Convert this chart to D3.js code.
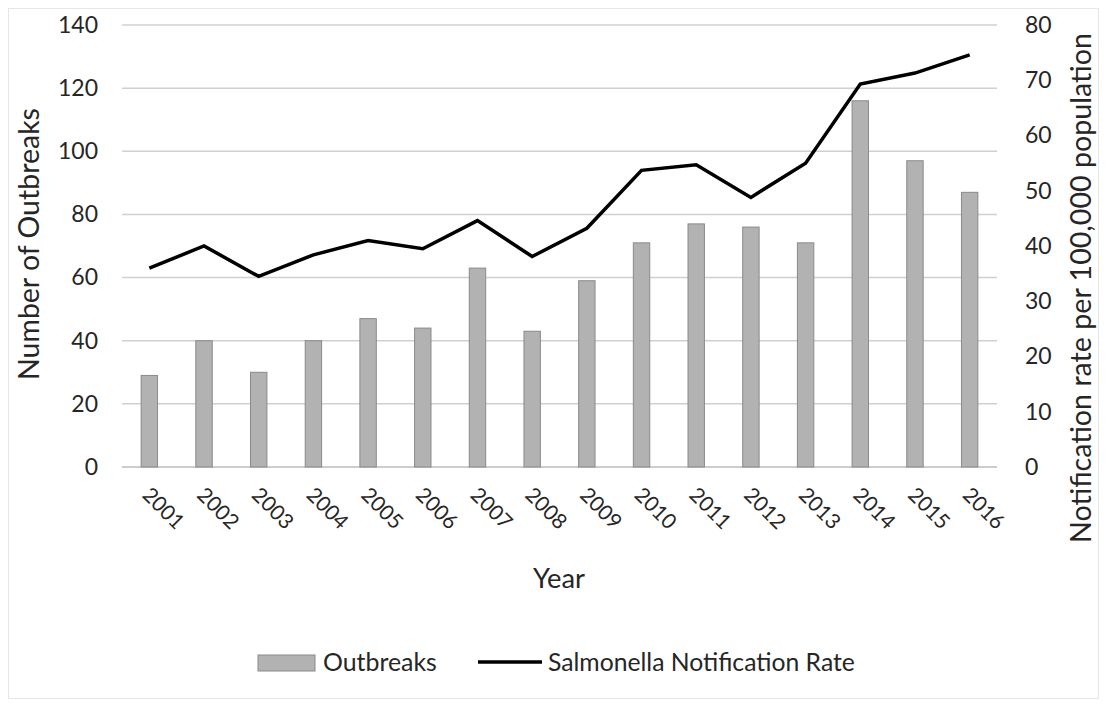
<!DOCTYPE html>
<html><head><meta charset="utf-8">
<script src="https://cdn.jsdelivr.net/npm/d3@7"></script>
<style>body{margin:0;background:#fff;}text{font-family:Lato,"Open Sans",sans-serif;fill:#262626;}</style>
</head><body><svg id="c" width="1105" height="704"></svg>
<script>
const years = ["2001","2002","2003","2004","2005","2006","2007","2008","2009","2010","2011","2012","2013","2014","2015","2016"];
const outbreaks = [29,40,30,40,47,44,63,43,59,71,77,76,71,116,97,87];
const rate = [36,40,34.5,38.4,41,39.5,44.6,38.1,43.2,53.7,54.7,48.8,55,69.3,71.3,74.6];
const leftTicks = [0,20,40,60,80,100,120,140];
const rightTicks = [0,10,20,30,40,50,60,70,80];

const svg = d3.select("#c");
function fit(sel, target){ const n=sel.node(); const fs=parseFloat(sel.attr("font-size")); const w=n.getComputedTextLength(); if(w>0) sel.attr("font-size", fs*target/w); return sel; }

svg.append("rect").attr("x",8.5).attr("y",8.5).attr("width",1090).attr("height",690).attr("fill","none").attr("stroke","#e6e6e6");
const L=122,R=997,T=25,B=467;
const x = d3.scaleBand().domain(years).range([L,R]).paddingInner(0.7).paddingOuter(0.35);
const yL = d3.scaleLinear().domain([0,140]).range([B,T]);
const yR = d3.scaleLinear().domain([0,80]).range([B,T]);

svg.append("g").selectAll("line").data(leftTicks).join("line")
  .attr("x1",L).attr("x2",R).attr("y1",d=>yL(d)).attr("y2",d=>yL(d))
  .attr("stroke",d=>d===0?"#bdbdbd":"#d0d0d0").attr("stroke-width",1.5);

const ga = svg.append("g").attr("transform",`translate(${L},0)`)
  .call(d3.axisLeft(yL).tickValues(leftTicks).tickSize(0).tickPadding(24));
ga.select(".domain").remove();
ga.selectAll("text").attr("font-size",23).style("fill","#262626").style("font-family","Lato");
const gr = svg.append("g").attr("transform",`translate(${R},0)`)
  .call(d3.axisRight(yR).tickValues(rightTicks).tickSize(0).tickPadding(28));
gr.select(".domain").remove();
gr.selectAll("text").attr("font-size",23).style("fill","#262626").style("font-family","Lato");

svg.append("g").selectAll("rect").data(years).join("rect")
  .attr("x",d=>x(d)).attr("width",x.bandwidth())
  .attr("y",(d,i)=>yL(outbreaks[i])).attr("height",(d,i)=>B-yL(outbreaks[i]))
  .attr("fill","#b2b2b2").attr("stroke","#8a8a8a").attr("stroke-width",1);

const line = d3.line().x((d,i)=>x(years[i])+x.bandwidth()/2).y(d=>yR(d));
svg.append("path").datum(rate).attr("d",line).attr("fill","none")
  .attr("stroke","#000").attr("stroke-width",3.5).attr("stroke-linejoin","miter");

svg.append("g").selectAll("text").data(years).join("text")
  .attr("transform",d=>`translate(${x(d)+x.bandwidth()/2-3},${B+24}) rotate(45)`)
  .attr("font-size",21).attr("dy","0.35em").text(d=>d);

fit(svg.append("text").attr("transform",`translate(39,244) rotate(-90)`)
  .attr("text-anchor","middle").attr("font-size",24).text("Number of Outbreaks"),272);
fit(svg.append("text").attr("transform",`translate(1091,288) rotate(-90)`)
  .attr("text-anchor","middle").attr("font-size",22).text("Notification rate per 100,000 population"),510);
fit(svg.append("text").attr("x",559).attr("y",588).attr("text-anchor","middle").attr("font-size",23).text("Year"),52);

const lg = svg.append("g");
lg.append("rect").attr("x",258).attr("y",655).attr("width",57).attr("height",16).attr("fill","#b2b2b2").attr("stroke","#8a8a8a");
fit(lg.append("text").attr("x",323).attr("y",671).attr("font-size",23).text("Outbreaks"),114);
lg.append("line").attr("x1",478).attr("x2",542).attr("y1",662).attr("y2",662).attr("stroke","#000").attr("stroke-width",3.5);
fit(lg.append("text").attr("x",548).attr("y",671).attr("font-size",23).text("Salmonella Notification Rate"),307);
</script></body></html>
